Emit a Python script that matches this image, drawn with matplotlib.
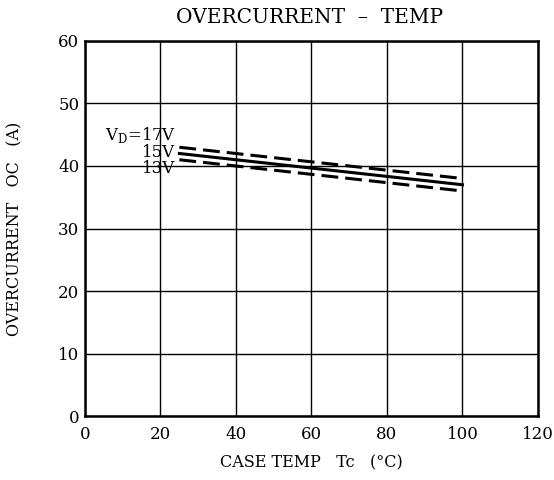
import matplotlib.pyplot as plt

temp = [25, 100]
oc_17v = [43.0, 38.0]
oc_15v = [42.0, 37.0]
oc_13v = [41.0, 36.0]

xticks = [0, 20, 40, 60, 80, 100, 120]
yticks = [0, 10, 20, 30, 40, 50, 60]

plt.rcParams['font.family'] = ['DejaVu Serif']

fig = plt.figure(figsize=(5.54, 4.8), dpi=100)
ax = fig.add_axes([0.1534, 0.1333, 0.8177, 0.7813])

ax.plot(temp, oc_17v, color='k', lw=2.2, linestyle=(0, (5.5, 2.3)))
ax.plot(temp, oc_15v, color='k', lw=2.2)
ax.plot(temp, oc_13v, color='k', lw=2.2, linestyle=(0, (5.5, 2.3)))

ax.set_xlim(0, 120)
ax.set_ylim(0, 60)
ax.set_xticks(xticks)
ax.set_yticks(yticks)
ax.grid(True, color='k', lw=1)
ax.tick_params(length=0, labelsize=12)
ax.tick_params(axis='x', pad=7)
ax.tick_params(axis='y', pad=4)
for s in ax.spines.values():
    s.set_linewidth(1.8)

ax.text(23.8, 44.9, r'V$_\mathregular{D}$=17V', ha='right', va='center', fontsize=12)
ax.text(23.8, 42.2, '15V', ha='right', va='center', fontsize=12)
ax.text(23.8, 39.6, '13V', ha='right', va='center', fontsize=12)

fig.text(0.558, 0.963, 'OVERCURRENT  \u2013  TEMP', ha='center', va='center', fontsize=14.5)
fig.text(0.5614, 0.035, 'CASE TEMP   Tc   (\u00b0C)', ha='center', va='center', fontsize=11.5)
fig.text(0.027, 0.523, 'OVERCURRENT   OC   (A)', ha='center', va='center', rotation=90, fontsize=11.5)

plt.savefig('out.png', format='png')
